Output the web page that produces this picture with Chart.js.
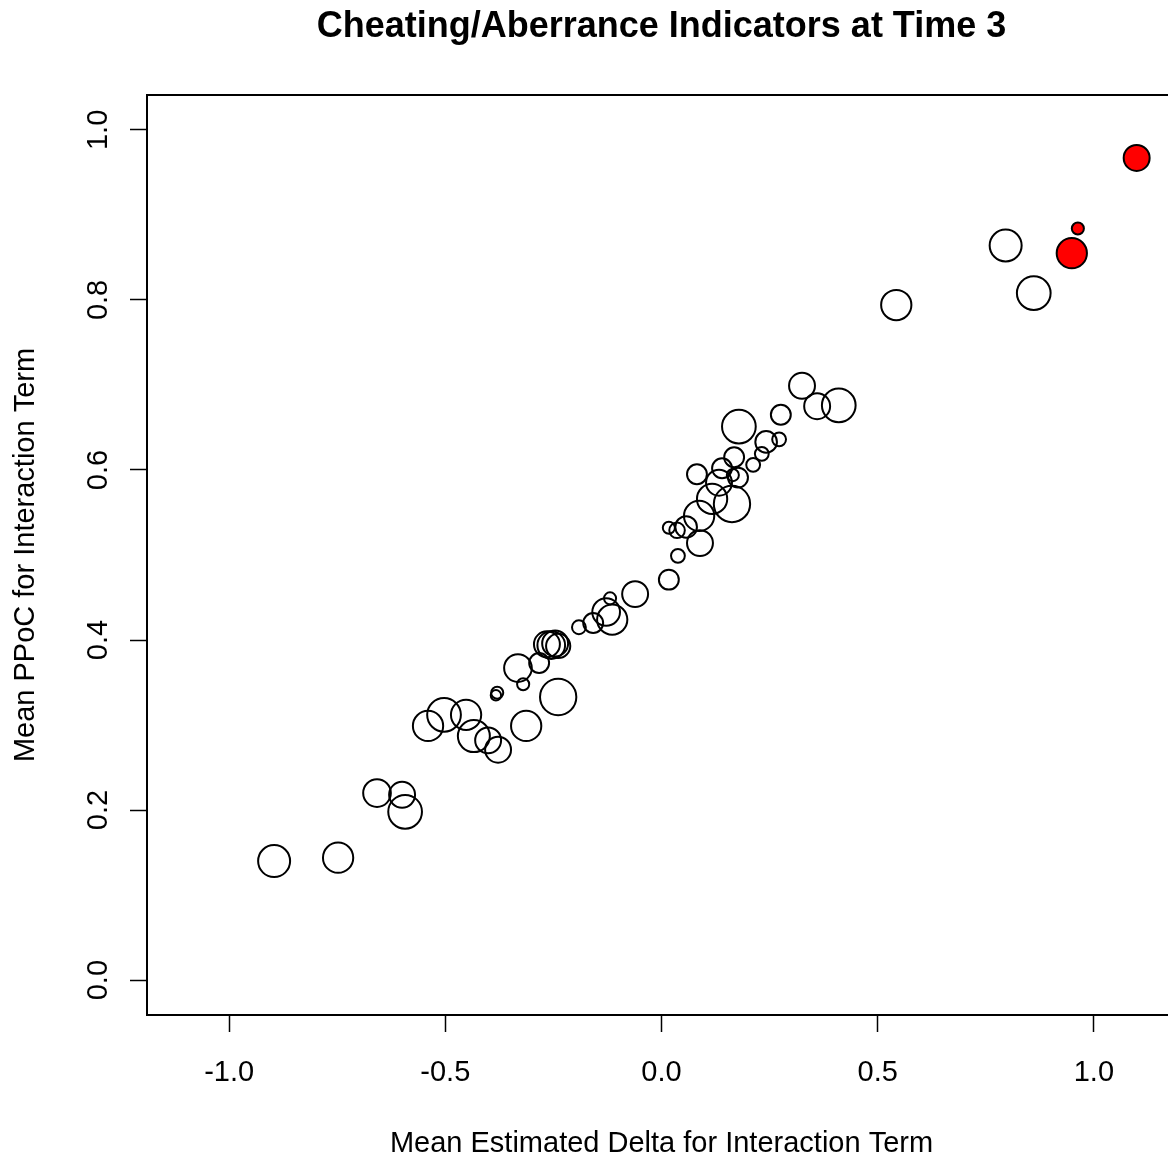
<!DOCTYPE html>
<html>
<head>
<meta charset="utf-8">
<title>Cheating/Aberrance Indicators at Time 3</title>
<script src="https://cdn.jsdelivr.net/npm/chart.js@4.4.1/dist/chart.umd.min.js"></script>
<style>
  html, body { margin: 0; padding: 0; background: #fff; overflow: hidden; }
  #wrap { width: 1180px; height: 1160px; }
</style>
</head>
<body>
<div id="wrap"><canvas id="bubbleChart" width="1180" height="1160"></canvas></div>
<script>
// items not flagged: mean estimated delta, mean PPoC, circle radius (x-axis units)
const deltaOpen = [
  -0.896, -0.748, -0.658, -0.600, -0.593, -0.540, -0.503, -0.452, -0.434, -0.401,
  -0.378, -0.380, -0.383, -0.313, -0.239, -0.332, -0.320, -0.283, -0.265, -0.255,
  -0.246, -0.239, -0.191, -0.158, -0.128, -0.114, -0.119, -0.061, 0.017, 0.038,
  0.017, 0.036, 0.057, 0.089, 0.087, 0.117, 0.163, 0.133, 0.082, 0.140,
  0.177, 0.165, 0.168, 0.212, 0.232, 0.242, 0.272, 0.179, 0.276, 0.325,
  0.360, 0.410, 0.543, 0.796, 0.861
];
const ppocOpen = [
  0.140, 0.144, 0.220, 0.218, 0.198, 0.299, 0.312, 0.312, 0.287, 0.282,
  0.271, 0.338, 0.335, 0.299, 0.333, 0.367, 0.348, 0.373, 0.395, 0.394,
  0.396, 0.393, 0.415, 0.420, 0.433, 0.424, 0.449, 0.454, 0.471, 0.499,
  0.532, 0.529, 0.533, 0.514, 0.546, 0.566, 0.560, 0.585, 0.595, 0.602,
  0.591, 0.594, 0.615, 0.606, 0.619, 0.633, 0.636, 0.651, 0.665, 0.699,
  0.675, 0.676, 0.794, 0.864, 0.808
];
const sizeOpen = [
  0.037, 0.035, 0.032, 0.030, 0.039, 0.035, 0.039, 0.035, 0.037, 0.030,
  0.030, 0.014, 0.012, 0.035, 0.042, 0.032, 0.014, 0.023, 0.030, 0.032,
  0.030, 0.028, 0.016, 0.023, 0.032, 0.035, 0.014, 0.030, 0.023, 0.016,
  0.014, 0.018, 0.025, 0.030, 0.035, 0.035, 0.042, 0.030, 0.023, 0.023,
  0.023, 0.014, 0.023, 0.016, 0.016, 0.025, 0.016, 0.039, 0.023, 0.030,
  0.030, 0.039, 0.035, 0.037, 0.039
];

// flagged items (drawn filled red)
const deltaFlagged = [0.949, 0.963, 1.099];
const ppocFlagged = [0.855, 0.884, 0.967];
const sizeFlagged = [0.035, 0.014, 0.030];

const xTicks = [-1.0, -0.5, 0.0, 0.5, 1.0];
const yTicks = [0.0, 0.2, 0.4, 0.6, 0.8, 1.0];

const FONT = "'Liberation Sans', Arial, Helvetica, sans-serif";

function toPoints(xs, ys) {
  return xs.map((x, i) => ({ x: x, y: ys[i] }));
}

// radius given in x units -> pixels through the x scale
function radiusFrom(sizes) {
  return (ctx) => {
    const sx = ctx.chart.scales.x;
    const r = Math.abs(sx.getPixelForValue(sizes[ctx.dataIndex]) - sx.getPixelForValue(0));
    return isFinite(r) ? r : 0;
  };
}

// plot frame and title centred over the plot region
const framePlugin = {
  id: 'frame',
  afterDraw(chart) {
    const { ctx, chartArea } = chart;
    ctx.save();
    ctx.strokeStyle = '#000';
    ctx.lineWidth = 2;
    ctx.strokeRect(chartArea.left, chartArea.top,
      chartArea.right - chartArea.left, chartArea.bottom - chartArea.top);
    ctx.fillStyle = '#000';
    ctx.font = 'bold 36px ' + FONT;
    ctx.textAlign = 'center';
    ctx.textBaseline = 'middle';
    ctx.fillText('Cheating/Aberrance Indicators at Time 3',
      (chartArea.left + chartArea.right) / 2, 27);
    ctx.restore();
  }
};

const ctx = document.getElementById('bubbleChart').getContext('2d');

new Chart(ctx, {
  type: 'scatter',
  data: {
    datasets: [
      {
        label: 'Items',
        data: toPoints(deltaOpen, ppocOpen),
        pointRadius: radiusFrom(sizeOpen),
        pointBackgroundColor: 'rgba(0,0,0,0)',
        pointBorderColor: '#000',
        pointBorderWidth: 2
      },
      {
        label: 'Flagged',
        data: toPoints(deltaFlagged, ppocFlagged),
        pointRadius: radiusFrom(sizeFlagged),
        pointBackgroundColor: '#ff0000',
        pointBorderColor: '#000',
        pointBorderWidth: 2
      }
    ]
  },
  options: {
    responsive: false,
    animation: false,
    events: [],
    layout: { padding: { top: 95, right: 4, left: 0, bottom: 0 } },
    plugins: {
      legend: { display: false },
      tooltip: { enabled: false }
    },
    scales: {
      x: {
        type: 'linear',
        min: -1.19,
        max: 1.19,
        afterBuildTicks: (scale) => { scale.ticks = xTicks.map(v => ({ value: v })); },
        afterFit: (scale) => { scale.height = 145; },
        grid: { drawOnChartArea: false, drawTicks: true, tickLength: 17, tickWidth: 1.5, tickColor: '#000' },
        border: { display: true, color: '#000', width: 2 },
        ticks: {
          color: '#000',
          font: { family: FONT, size: 29 },
          padding: 24,
          maxRotation: 0,
          callback: (v) => v.toFixed(1)
        },
        title: {
          display: true,
          text: 'Mean Estimated Delta for Interaction Term',
          color: '#000',
          font: { family: FONT, size: 29 },
          padding: { top: 0, bottom: -1 }
        }
      },
      y: {
        type: 'linear',
        min: -0.041,
        max: 1.041,
        afterBuildTicks: (scale) => { scale.ticks = yTicks.map(v => ({ value: v })); },
        afterFit: (scale) => { scale.width = 147; },
        grid: { drawOnChartArea: false, drawTicks: true, tickLength: 17, tickWidth: 1.5, tickColor: '#000' },
        border: { display: true, color: '#000', width: 2 },
        ticks: {
          color: '#000',
          font: { family: FONT, size: 29 },
          minRotation: 90,
          maxRotation: 90,
          crossAlign: 'center',
          padding: 11,
          callback: (v) => v.toFixed(1)
        },
        title: {
          display: true,
          text: 'Mean PPoC for Interaction Term',
          color: '#000',
          font: { family: FONT, size: 29 },
          padding: { top: 9, bottom: 0 }
        }
      }
    }
  },
  plugins: [framePlugin]
});
</script>
</body>
</html>
